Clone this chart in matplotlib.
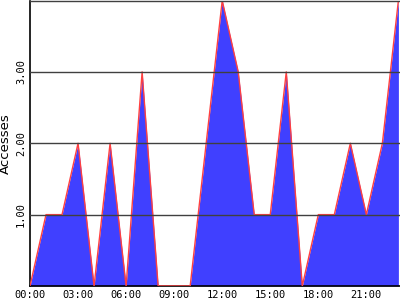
import numpy as np
import matplotlib
matplotlib.use('Agg')
import matplotlib.pyplot as plt

# ---- data (hourly accesses) ----------------------------------------------
hours    = list(range(24))
accesses = [0, 1, 1, 2, 0, 2, 0, 3, 0, 0, 0, 2,
            4, 3, 1, 1, 3, 0, 1, 1, 2, 1, 2, 4]
xtick_pos    = [0, 3, 6, 9, 12, 15, 18, 21]
xtick_labels = ["00:00", "03:00", "06:00", "09:00",
                "12:00", "15:00", "18:00", "21:00"]
ytick_pos    = [1, 2, 3]
ytick_labels = ["1.00", "2.00", "3.00"]

fig = plt.figure(figsize=(4, 3), dpi=100)
ax = fig.add_axes([30/400, 14/300, 370/400, 285.5/300])

ax.fill_between(hours, accesses, 0, color='#4040ff', lw=0, zorder=2)
ax.plot(hours, accesses, color='#ff4040', lw=1.0, zorder=3)

for y in [1, 2, 3, 4]:
    ax.axhline(y, color='#404040', lw=1.0, zorder=4, clip_on=False)

ax.set_xlim(0, 23.1)
ax.set_ylim(0, 4)

ax.set_xticks(xtick_pos)
ax.set_xticklabels(xtick_labels, family='DejaVu Sans Mono', fontsize=7.5)
ax.set_yticks(ytick_pos)
ax.set_yticklabels(ytick_labels, family='DejaVu Sans Mono', fontsize=7.5,
                   rotation=90, va='center')
ax.tick_params(length=0, pad=3)

ax.set_ylabel("Accesses", fontsize=9.5, labelpad=3)

for s in ['top', 'right']:
    ax.spines[s].set_visible(False)
ax.spines['left'].set_linewidth(1.2)
ax.spines['bottom'].set_linewidth(1.2)

fig.savefig("out.png", dpi=100)
